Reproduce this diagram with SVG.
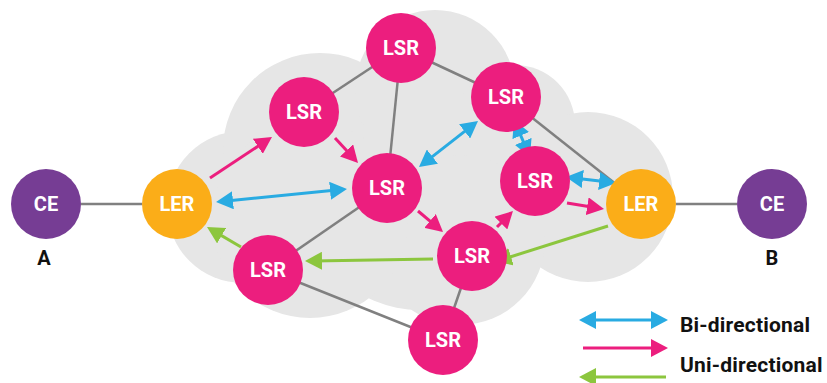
<svg xmlns="http://www.w3.org/2000/svg" width="827" height="383" viewBox="0 0 827 383">
  <style>
    .cloud { fill: #E6E6E6; }
    .link { stroke: #808080; stroke-width: 2.5; fill: none; }
    .bi { stroke: #29ABE2; stroke-width: 3; fill: none; marker-start: url(#headBlue); marker-end: url(#headBlue); }
    .uni { stroke: #EC1E7E; stroke-width: 3; fill: none; marker-end: url(#headPink); }
    .back { stroke: #8CC63E; stroke-width: 3; fill: none; marker-end: url(#headGreen); }
    .lsr { fill: #EC1E7E; }
    .ler { fill: #FBAD18; }
    .ce { fill: #763D94; }
    .lbl { font-family: Roboto, "Liberation Sans", sans-serif; font-weight: bold; font-size: 20px; fill: #FFFFFF; text-anchor: middle; }
    .site { font-family: Roboto, "Liberation Sans", sans-serif; font-weight: bold; font-size: 20px; fill: #111111; text-anchor: middle; }
    .legend { font-family: Roboto, "Liberation Sans", sans-serif; font-weight: bold; font-size: 21px; letter-spacing: 0.2px; fill: #111111; }
  </style>
  <defs>
    <marker id="headBlue" viewBox="0 0 17 18" refX="9" refY="9" markerWidth="17" markerHeight="18" markerUnits="userSpaceOnUse" orient="auto-start-reverse">
      <path d="M0,0 L17,9 L0,18 z" fill="#29ABE2"/>
    </marker>
    <marker id="headPink" viewBox="0 0 17 18" refX="9" refY="9" markerWidth="17" markerHeight="18" markerUnits="userSpaceOnUse" orient="auto">
      <path d="M0,0 L17,9 L0,18 z" fill="#EC1E7E"/>
    </marker>
    <marker id="headGreen" viewBox="0 0 17 18" refX="9" refY="9" markerWidth="17" markerHeight="18" markerUnits="userSpaceOnUse" orient="auto">
      <path d="M0,0 L17,9 L0,18 z" fill="#8CC63E"/>
    </marker>
  </defs>

  <!-- MPLS cloud -->
  <g id="cloud" class="cloud">
    <circle cx="420" cy="190" r="120"/>
    <circle cx="243" cy="207" r="76"/>
    <circle cx="320" cy="150" r="97"/>
    <circle cx="435" cy="90" r="80"/>
    <circle cx="515" cy="125" r="60"/>
    <circle cx="588" cy="197" r="85"/>
    <circle cx="460" cy="240" r="85"/>
    <circle cx="310" cy="220" r="98"/>
  </g>

  <!-- physical links and label-switched paths -->
  <g id="connectors">
    <line class="link" x1="81" y1="204" x2="142" y2="204"/>
    <line class="link" x1="676" y1="204" x2="737" y2="204"/>
    <line class="link" x1="401" y1="48" x2="304" y2="112"/>
    <line class="link" x1="401" y1="48" x2="387" y2="188"/>
    <line class="link" x1="401" y1="48" x2="506" y2="97"/>
    <line class="link" x1="506" y1="97" x2="641" y2="204"/>
    <line class="link" x1="387" y1="188" x2="268" y2="270"/>
    <line class="link" x1="268" y1="270" x2="443" y2="340"/>
    <line class="link" x1="472" y1="256" x2="443" y2="340"/>

    <line class="uni" x1="210" y1="178" x2="265.3" y2="141.4"/>
    <line class="uni" x1="335" y1="138" x2="352.6" y2="157.1"/>
    <line class="uni" x1="418" y1="211" x2="436.9" y2="226.8"/>
    <line class="uni" x1="497" y1="227" x2="507.3" y2="216.7"/>
    <line class="uni" x1="567" y1="203" x2="596.1" y2="207.7"/>

    <line class="bi" x1="224" y1="201.2" x2="339" y2="189.8"/>
    <line class="bi" x1="425.3" y1="162.1" x2="471.7" y2="125.9"/>
    <line class="bi" x1="517.2" y1="127.3" x2="526.8" y2="149.7"/>
    <line class="bi" x1="573.9" y1="178" x2="608.1" y2="182"/>

    <line class="back" x1="608" y1="226" x2="502.4" y2="259.4"/>
    <line class="back" x1="433" y1="259" x2="313" y2="260.9"/>
    <line class="back" x1="241" y1="247" x2="213.9" y2="231.1"/>
  </g>

  <!-- routers -->
  <g id="ce-a"><circle class="ce" cx="46" cy="204" r="35"/><text class="lbl" x="46" y="211">CE</text><text class="site" x="44" y="265">A</text></g>
  <g id="ler-a"><circle class="ler" cx="177" cy="204" r="35"/><text class="lbl" x="177" y="211">LER</text></g>
  <g id="lsr-top"><circle class="lsr" cx="401" cy="48" r="35"/><text class="lbl" x="401" y="55">LSR</text></g>
  <g id="lsr-upper-left"><circle class="lsr" cx="304" cy="112" r="35"/><text class="lbl" x="304" y="119">LSR</text></g>
  <g id="lsr-center"><circle class="lsr" cx="387" cy="188" r="35"/><text class="lbl" x="387" y="195">LSR</text></g>
  <g id="lsr-upper-right"><circle class="lsr" cx="506" cy="97" r="35"/><text class="lbl" x="506" y="104">LSR</text></g>
  <g id="lsr-right"><circle class="lsr" cx="535" cy="181" r="35"/><text class="lbl" x="535" y="188">LSR</text></g>
  <g id="lsr-lower-mid"><circle class="lsr" cx="472" cy="256" r="35"/><text class="lbl" x="472" y="263">LSR</text></g>
  <g id="lsr-lower-left"><circle class="lsr" cx="268" cy="270" r="35"/><text class="lbl" x="268" y="277">LSR</text></g>
  <g id="lsr-bottom"><circle class="lsr" cx="443" cy="340" r="35"/><text class="lbl" x="443" y="347">LSR</text></g>
  <g id="ler-b"><circle class="ler" cx="641" cy="204" r="35"/><text class="lbl" x="641" y="211">LER</text></g>
  <g id="ce-b"><circle class="ce" cx="772" cy="204" r="35"/><text class="lbl" x="772" y="211">CE</text><text class="site" x="772" y="265">B</text></g>

  <!-- legend -->
  <g id="legend">
    <line class="bi" x1="587" y1="320" x2="660" y2="320"/>
    <line class="uni" x1="583" y1="348" x2="660" y2="348"/>
    <line class="back" x1="666" y1="377" x2="587" y2="377"/>
    <text class="legend" x="680" y="332">Bi-directional</text>
    <text class="legend" x="680" y="372">Uni-directional</text>
  </g>
</svg>
